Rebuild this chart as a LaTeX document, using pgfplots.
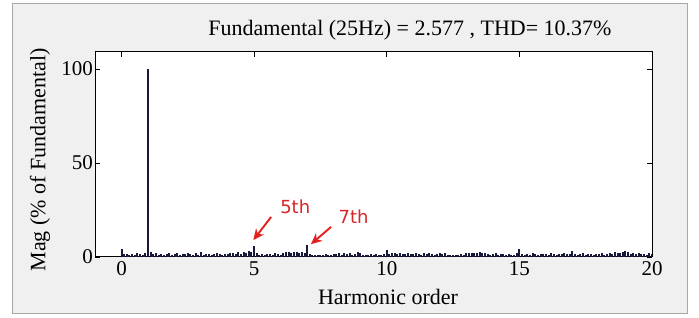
\documentclass[border=0pt]{standalone}
\usepackage{pgfplots}
\pgfplotsset{compat=1.18}
\usepackage{pgfplotstable}
\usepackage{fontspec}
\setmainfont{Liberation Serif}
\newfontfamily\dejavu{DejaVu Sans}
\usetikzlibrary{arrows.meta}
\definecolor{bgray}{HTML}{F0F0F0}
\definecolor{fgray}{HTML}{A8A8A8}
\definecolor{barc}{HTML}{18183A}
\definecolor{annred}{HTML}{D8262A}
\definecolor{arrred}{HTML}{E61E1E}

% harmonic spectrum, 0 ... 20 in steps of 0.1 harmonic
\pgfplotstableread{
y
4.0
1.8
1.5
1.2
1.7
1.3
2.0
1.5
1.1
2.2
100
2.4
1.8
2.1
1.3
1.7
1.2
1.5
2.0
1.3
1.7
2.1
1.2
1.8
1.5
2.2
1.7
1.3
2.0
1.1
2.7
1.3
1.5
1.8
1.2
1.7
2.1
1.5
1.3
1.8
1.5
2.0
2.2
1.7
2.4
1.8
2.7
2.1
3.0
2.4
6.0
2.0
1.3
1.7
1.2
1.8
1.5
1.1
2.0
1.7
1.3
2.1
2.4
2.7
2.2
2.9
2.4
2.0
2.7
2.1
6.4
1.8
0.9
0.8
1.1
0.9
1.2
1.7
1.3
1.2
1.8
1.5
2.0
1.3
2.1
1.7
2.2
1.2
1.8
2.4
2.0
1.3
1.1
1.2
1.5
1.3
1.7
1.1
1.2
1.8
3.8
1.8
2.2
2.0
1.7
2.1
1.8
1.5
2.0
1.7
1.8
2.1
1.5
1.3
2.0
1.7
2.2
1.8
1.3
1.5
2.0
1.7
2.1
1.2
1.1
1.3
0.9
1.2
1.5
1.3
2.2
2.1
2.0
2.2
2.1
2.4
2.0
2.2
1.7
1.3
1.5
2.1
1.2
1.8
1.5
1.3
1.7
1.2
1.3
2.0
4.2
1.7
1.3
1.8
1.2
2.1
1.5
1.3
1.7
1.8
1.5
1.2
2.0
1.7
1.3
1.8
1.5
2.1
1.7
1.8
3.0
1.8
1.3
1.7
2.0
1.2
1.5
1.8
1.3
1.7
1.5
2.0
1.3
1.8
2.1
1.7
2.4
2.0
2.2
2.7
3.2
2.4
1.8
2.1
1.5
2.0
1.7
1.8
1.3
2.1
1.8
}\harm

\begin{document}
\begin{tikzpicture}[x=1pt,y=1pt]
\useasboundingbox (0,0) rectangle (699,318);
\fill[white] (0,0) rectangle (699,318);
\filldraw[fill=bgray, draw=fgray, line width=1pt] (12,4) rectangle (687,314);
\begin{axis}[
  at={(95pt,61pt)}, anchor=south west,
  scale only axis, width=557pt, height=205pt,
  xmin=-1, xmax=20, ymin=0, ymax=109,
  xtick={0,5,10,15,20}, ytick={0,50,100},
  tick align=inside, tick pos=both,
  major tick length=5pt,
  axis line style={line width=1pt},
  tick style={black, line width=0.6pt},
  axis background/.style={fill=white},
  font=\fontsize{21}{24}\selectfont,
  /pgf/number format/assume math mode=true,
  yticklabel style={inner sep=0pt, xshift=-2pt},
  xticklabel style={yshift=-1pt},
]
\addplot[ycomb, barc, line width=2pt] table[x expr=\coordindex*0.1, y=y] {\harm};
\node[annred, font=\dejavu\fontsize{18}{21}\selectfont] at (axis cs:6.55,26.6) {5th};
\node[annred, font=\dejavu\fontsize{18}{21}\selectfont] at (axis cs:8.75,21.7) {7th};
\draw[-{Stealth[length=11pt,width=10pt]}, line width=1.9pt, arrred] (axis cs:5.64,21.3) -- (axis cs:4.97,9.0);
\draw[-{Stealth[length=11pt,width=10pt]}, line width=1.9pt, arrred] (axis cs:7.9,16.0) -- (axis cs:7.14,6.8);
\end{axis}
\node[font=\fontsize{22}{25}\selectfont] at (410,288) {Fundamental (25Hz) = 2.577 , THD= 10.37\%};
\node[font=\fontsize{22}{25}\selectfont] at (388,21) {Harmonic order};
\node[font=\fontsize{22}{25}\selectfont, rotate=90] at (40,158) {Mag (\% of Fundamental)};
\end{tikzpicture}
\end{document}
